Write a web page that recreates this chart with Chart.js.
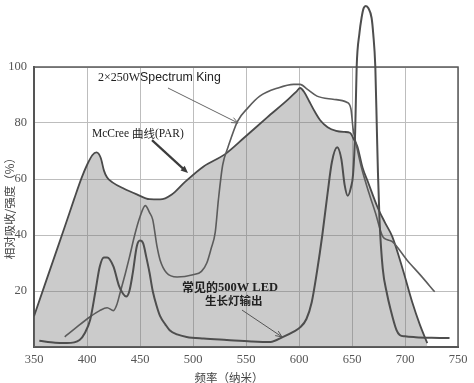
<!DOCTYPE html>
<html><head><meta charset="utf-8">
<script src="https://cdn.jsdelivr.net/npm/chart.js@4"></script>
<style>html,body{margin:0;padding:0;background:#fff;}#wrap{width:474px;height:383px;position:relative;}</style>
</head><body><div id="wrap"><canvas id="c" width="474" height="383"></canvas></div>
<script>
// ---- data ----
const xTickValues = [350, 400, 450, 500, 550, 600, 650, 700, 750];
const yTickValues = [0, 20, 40, 60, 80, 100];

const mccreeNm  = [350,360,370,380,388,395,400,405,409,413,416,419,424,435,447,459,469,480,492,510,530,549,570,590,598,601,605,610,615,620,627,635,643,648,652,655,660,665,674,681,688,698,707,714,721];
const mccreeVal = [11,22,33,44,53,60.5,65,68.5,69.5,67.5,63,60.5,58.8,56.5,54.5,52.8,52.7,54.5,58.8,64.5,68.8,75,82,88.5,91.4,92.5,91,87.5,84,81,78.5,77.2,76.8,76.5,74,71.7,64,59,50,44.5,39.4,27.6,15.8,8,1.4];

const skNm  = [379,390,403,412,419,425,428,431,436,440,445,450,455,459,462,466,469,475,485,500,508,513,517,521,524,528,533,542,552,563,580,595,601,608,617,632,645,649,651,655,659,666,672,679,684,688,702,715,728];
const skVal = [3.6,7,10.8,13,14,13,15,19,26,32,40,46.5,50.5,48,45.5,36,31,26.5,25,25.8,27,30,35,41,52.7,65,71.3,80.6,85.5,89.6,92.5,93.8,93.8,92,89.6,88.5,87.4,85,78,70.6,64,55,48,39.4,38.2,37.6,31,25.5,19.7];

const ledNm  = [355,370,381,393,398,403,408,412,416,419,425,430,434,437,440,443,447,450,453,456,459,462,466,469,474,478,485,494,510,532,555,573,585,595,601,607,612,617,622,627,631,636,640,643,646,649,651,653,654.4,657,659,661,663,665.5,668.5,670,672,673.5,674.5,676,679,683,686,692,695,700,710,725,742];
const ledVal = [2.2,1.5,1.4,2.5,5,9.7,20,28.7,32,32,28.7,22,19,18,20,26,36,38,37,32,26.5,20,14.3,11,8,6,4.5,3.6,3,2.5,2,1.8,3.6,5.5,7,10,16,27,40,55,66,71.3,67,58,54,57,61.6,77,100,112,117.5,121,121.8,121,117.5,112,100,77,62,45,28,19,14,6,4.3,3.8,3.5,3.3,3.2];

const xTitle = '频率（纳米）';
const yTitle = '相对吸收/强度（%）';

// annotation anchors in data units
const notes = {
  sk:   { text: [{t:'2×250W', f:'12px "Liberation Serif"'}, {t:'Spectrum King', f:'12.3px "Liberation Sans"'}], at:[410.4,96.1], arrow:[[476.4,92.5],[542.5,80.0]] },
  mc:   { text: [{t:'McCree ', f:'11.5px "Liberation Serif"'}, {t:'曲线', f:'11.5px "Noto Sans CJK SC"'}, {t:'(PAR)', f:'11.5px "Liberation Serif"'}], at:[404.7,76.1], arrow:[[461.3,73.9],[495.3,62.1]] },
  led1: { text: [{t:'常见的', f:'bold 12px "Noto Sans CJK SC"'}, {t:'500W LED', f:'bold 12.5px "Liberation Serif"'}], at:[489.6,21.1] },
  led2: { text: [{t:'生长灯输出', f:'bold 11.5px "Noto Sans CJK SC"'}], at:[511.3,16.6], arrow:[[546.2,13.2],[584,3.6]] }
};

const pts = (xs, ys) => xs.map((x, i) => ({x, y: ys[i]}));

function drawRuns(ctx, x, y, runs) {
  ctx.textBaseline = 'middle'; ctx.textAlign = 'left';
  for (const r of runs) { ctx.font = r.f; ctx.fillText(r.t, x, y); x += ctx.measureText(r.t).width; }
}
function drawArrow(ctx, x1, y1, x2, y2, color, width, head, filled) {
  ctx.save();
  ctx.strokeStyle = color; ctx.fillStyle = color; ctx.lineWidth = width;
  const a = Math.atan2(y2 - y1, x2 - x1);
  ctx.beginPath(); ctx.moveTo(x1, y1);
  ctx.lineTo(x2 - (filled ? head * 0.7 : 0) * Math.cos(a), y2 - (filled ? head * 0.7 : 0) * Math.sin(a)); ctx.stroke();
  ctx.beginPath();
  ctx.moveTo(x2 - head * Math.cos(a - 0.4), y2 - head * Math.sin(a - 0.4));
  ctx.lineTo(x2, y2);
  ctx.lineTo(x2 - head * Math.cos(a + 0.4), y2 - head * Math.sin(a + 0.4));
  if (filled) { ctx.closePath(); ctx.fill(); } else ctx.stroke();
  ctx.restore();
}

const decor = {
  id: 'decor',
  beforeDatasetsDraw(chart) {
    const {ctx, chartArea: a} = chart;
    ctx.save(); ctx.strokeStyle = '#5a5a5a'; ctx.lineWidth = 1.5;
    ctx.beginPath(); ctx.moveTo(a.left, a.top); ctx.lineTo(a.right, a.top); ctx.lineTo(a.right, a.bottom); ctx.stroke();
    ctx.restore();
  },
  afterDraw(chart) {
    const {ctx, chartArea: a, scales: {x, y}} = chart;
    const P = p => [x.getPixelForValue(p[0]), y.getPixelForValue(p[1])];
    ctx.save();
    ctx.fillStyle = '#222';
    for (const k of ['sk', 'mc', 'led1', 'led2']) {
      const n = notes[k]; const [px, py] = P(n.at); drawRuns(ctx, px, py, n.text);
    }
    let s = P(notes.sk.arrow[0]), e = P(notes.sk.arrow[1]);
    drawArrow(ctx, s[0], s[1], e[0], e[1], '#666', 1, 7, false);
    s = P(notes.mc.arrow[0]); e = P(notes.mc.arrow[1]);
    drawArrow(ctx, s[0], s[1], e[0], e[1], '#3c3c3c', 2.2, 8, true);
    s = P(notes.led2.arrow[0]); e = P(notes.led2.arrow[1]);
    drawArrow(ctx, s[0], s[1], e[0], e[1], '#555', 1, 7, false);
    // axis titles
    ctx.fillStyle = '#444'; ctx.font = '11.5px "Noto Sans CJK SC"';
    ctx.textAlign = 'center'; ctx.textBaseline = 'middle';
    ctx.fillText(xTitle, a.left + (a.right - a.left) * 0.46, a.bottom + 31);
    ctx.translate(10, a.top + (a.bottom - a.top) * 0.495); ctx.rotate(-Math.PI / 2);
    ctx.fillText(yTitle, 0, 0);
    ctx.restore();
  }
};

new Chart(document.getElementById('c'), {
  type: 'line',
  data: {
    datasets: [
      { label: 'LED', data: pts(ledNm, ledVal), borderColor: '#4e4e4e', borderWidth: 2, pointRadius: 0, fill: false, clip: false, cubicInterpolationMode: 'monotone' },
      { label: 'Spectrum King', data: pts(skNm, skVal), borderColor: '#5c5c5c', borderWidth: 1.6, pointRadius: 0, fill: false, cubicInterpolationMode: 'monotone' },
      { label: 'McCree', data: pts(mccreeNm, mccreeVal), borderColor: '#4a4a4a', borderWidth: 1.8, pointRadius: 0, fill: 'origin', backgroundColor: 'rgba(110,110,110,0.36)', cubicInterpolationMode: 'monotone' }
    ]
  },
  options: {
    responsive: false, animation: false, events: [],
    layout: { padding: { top: 67, right: 16, left: 0, bottom: 0 } },
    plugins: { legend: { display: false }, tooltip: { enabled: false } },
    scales: {
      x: {
        type: 'linear', min: 350, max: 750,
        afterBuildTicks: s => { s.ticks = xTickValues.map(v => ({value: v})); },
        afterFit: s => { s.height = 36; },
        ticks: { padding: 5, color: '#555', font: { family: 'Liberation Serif', size: 12.5 }, maxRotation: 0 },
        grid: { color: '#bdbdbd', lineWidth: 1, drawTicks: false },
        border: { color: '#555', width: 2 }
      },
      y: {
        min: 0, max: 100,
        afterBuildTicks: s => { s.ticks = yTickValues.map(v => ({value: v})); },
        afterFit: s => { s.width = 34; },
        ticks: { padding: 7, color: '#555', font: { family: 'Liberation Serif', size: 12.5 }, callback: v => v === 0 ? '' : String(v) },
        grid: { color: '#bdbdbd', lineWidth: 1, drawTicks: false },
        border: { color: '#555', width: 2 }
      }
    }
  },
  plugins: [decor]
});
</script></body></html>
